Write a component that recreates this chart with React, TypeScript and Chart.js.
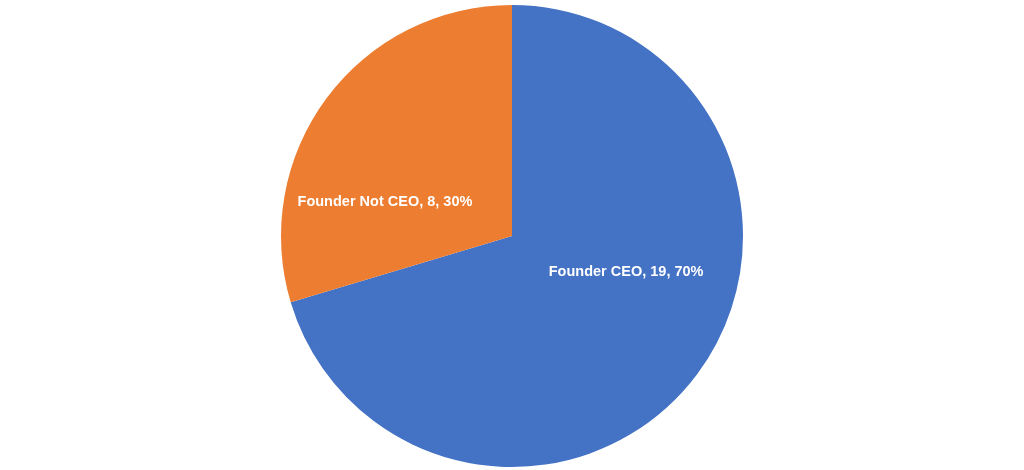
import React, { useEffect, useRef } from "react";
import { Chart, registerables } from "chart.js";

Chart.register(...registerables);

const categories = ["Founder CEO", "Founder Not CEO"];
const values = [19, 8];
const percentLabels = ["70%", "30%"];
const colors = ["#4472C4", "#ED7D31"];
const labelOffsets = [
  [0.494, 0.156],
  [-0.55, -0.147],
];

const labelPlugin = {
  id: "sliceLabels",
  afterDatasetsDraw(chart: any) {
    const ctx = chart.ctx;
    const meta = chart.getDatasetMeta(0);
    ctx.save();
    ctx.fillStyle = "#FFFFFF";
    ctx.font = "bold 14.5px 'Liberation Sans', Arial, sans-serif";
    ctx.textAlign = "center";
    ctx.textBaseline = "middle";
    meta.data.forEach((arc: any, i: number) => {
      const r = arc.outerRadius;
      const x = arc.x + r * labelOffsets[i][0];
      const y = arc.y + r * labelOffsets[i][1];
      ctx.fillText(`${categories[i]}, ${values[i]}, ${percentLabels[i]}`, x, y);
    });
    ctx.restore();
  },
};

export default function App() {
  const ref = useRef<HTMLCanvasElement>(null);
  useEffect(() => {
    document.body.style.margin = "0";
    const chart = new Chart(ref.current!, {
      type: "pie",
      data: {
        labels: categories,
        datasets: [
          {
            data: values,
            backgroundColor: colors,
            borderWidth: 0,
          },
        ],
      },
      options: {
        animation: false,
        responsive: false,
        maintainAspectRatio: false,
        layout: { padding: { top: 5, bottom: 3, left: 0, right: 0 } },
        plugins: {
          legend: { display: false },
          tooltip: { enabled: false },
        },
      },
      plugins: [labelPlugin],
    });
    return () => chart.destroy();
  }, []);
  return (
    <div style={{ width: 1024, height: 470, background: "#fff" }}>
      <canvas ref={ref} width={1024} height={470} />
    </div>
  );
}
